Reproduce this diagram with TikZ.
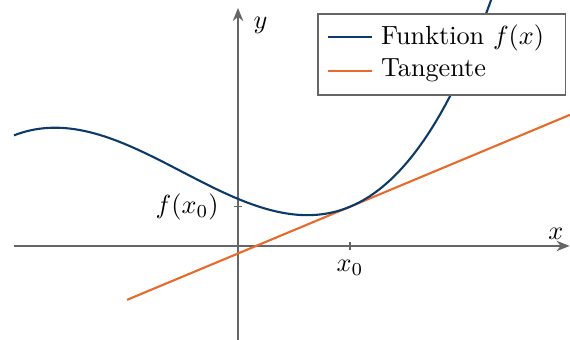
\documentclass[tikz,border=0pt]{standalone}
\usetikzlibrary{calc, arrows.meta}
\definecolor{funcblue}{HTML}{0B3A6B}
\definecolor{tanorange}{HTML}{E8692A}
\definecolor{axisgray}{HTML}{666666}
\begin{document}
\begin{tikzpicture}[x=1.5cm, y=1.5cm, thick]
  \clip (-2.125,-0.839) rectangle (2.964,2.196);
  \coordinate (xl) at (-2.0, 0);
  \coordinate (xr) at (2.96, 0);
  \coordinate (yb) at (0, -0.84);
  \coordinate (yt) at (0, 2.125);
  % point of contact, f(1) = 0.3506, f'(1) = 0.4177
  \coordinate (P) at (1, 0.3506);
  \coordinate (Px) at (1, 0);
  \coordinate (Py) at (0, 0.3506);
  \coordinate (T1) at (-0.991, -0.481);
  \coordinate (T2) at (2.964, 1.171);

  \draw[axisgray, semithick, -{Stealth[length=5pt, width=4pt]}] (xl) -- (xr);
  \draw[axisgray, semithick, -{Stealth[length=5pt, width=4pt]}] (yb) -- (yt);
  \draw[axisgray, thin] ($(Px)+(0,-0.036)$) -- ($(Px)+(0,0.036)$);
  \draw[axisgray, thin] ($(Py)+(-0.036,0)$) -- ($(Py)+(0.036,0)$);

  \node[above left, inner sep=2pt] (xlab) at (xr) {$x$};
  \node (ylab) at (0.2, 1.97) {$y$};
  \node[below] (x0lab) at (1, -0.04) {$x_0$};
  \node[left, xshift=-2pt] (fx0lab) at (-0.04, 0.3506) {$f(x_0)$};

  \draw[tanorange] (T1) -- (T2);
  \draw[funcblue, domain=-2:2.3, samples=120, smooth] plot
    (\x, {0.1346*(\x)^3 + 0.2001*(\x)^2 - 0.4243*\x + 0.415 + 0.0056*exp(1.5*\x)});

  % legend
  \draw[axisgray, fill=white, thin] (0.714,1.348) rectangle (2.92,2.071);
  \coordinate (la) at (0.804,1.866);
  \coordinate (lb) at (1.196,1.866);
  \coordinate (lc) at (0.804,1.5625);
  \coordinate (ld) at (1.196,1.5625);
  \draw[funcblue] (la) -- (lb);
  \draw[tanorange] (lc) -- (ld);
  \node[anchor=base west, inner sep=0pt] (leg1) at (1.268,1.795) {Funktion $f(x)$};
  \node[anchor=base west, inner sep=0pt] (leg2) at (1.268,1.509) {Tangente};
\end{tikzpicture}
\end{document}
